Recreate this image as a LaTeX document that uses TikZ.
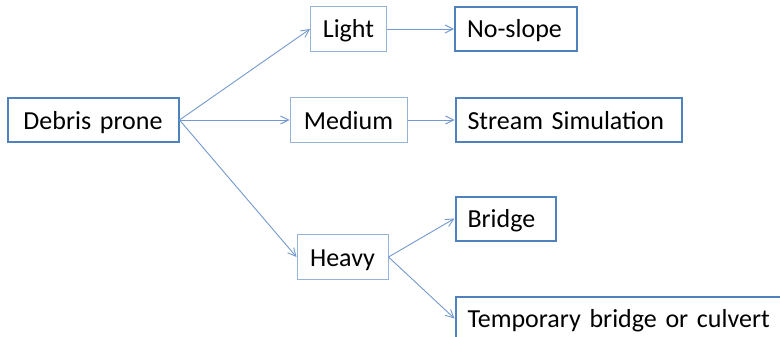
\documentclass[tikz,border=0pt]{standalone}
\usepackage{fontspec}
\setmainfont{Carlito}
\usetikzlibrary{arrows.meta, positioning}
\definecolor{bdark}{HTML}{4F81BD}
\definecolor{blight}{HTML}{95B3D7}
\definecolor{bline}{HTML}{7399CF}
\tikzstyle{choice} = [rectangle, draw=bdark, line width=2pt, minimum height=44pt, inner xsep=12pt, inner ysep=0pt, text height=20pt, text depth=2pt, align=left, font=\fontsize{26}{30}\selectfont]
\tikzstyle{level} = [rectangle, draw=blight, line width=1pt, minimum height=45pt, inner xsep=12pt, inner ysep=0pt, text height=20pt, text depth=2pt, text centered, font=\fontsize{26}{30}\selectfont]
\tikzstyle{link} = [line width=0.9pt, draw=bline, -{Straight Barb[length=8pt, width=8pt]}]

\begin{document}
\begin{tikzpicture}[node distance = 1cm]
  \useasboundingbox (0,0) rectangle (780pt,-337pt);
  \clip (0,0) rectangle (780pt,-337pt);
  \node (debris) [choice, text width=147pt, align=center] at (93pt,-120pt) {Debris prone};
  \node (medium) [level, minimum width=117pt, right=110pt of debris] {Medium};
  \node (light) [level, minimum width=76pt, above=45pt of medium] {Light};
  \node (heavy) [level, minimum width=91pt, below=91pt of medium, xshift=-6pt] {Heavy};
  \node (noslope) [choice, text width=98pt, right=67pt of light] {No-slope};
  \node (stream) [choice, text width=202pt, right=47pt of medium] {Stream Simulation};
  \node (bridge) [choice, text width=76pt, right=66pt of heavy, yshift=38.5pt] {Bridge};
  \node (temp) [choice, text width=312pt, right=66pt of heavy, yshift=-61.5pt] {Temporary bridge or culvert};
  \draw [link] (debris.east) -- (light.west);
  \draw [link] (debris.east) -- (medium.west);
  \draw [link] (debris.east) -- (heavy.west);
  \draw [link] (light.east) -- (noslope.west);
  \draw [link] (medium.east) -- (stream.west);
  \draw [link] (heavy.east) -- (bridge.west);
  \draw [link] (heavy.east) -- (temp.west);
\end{tikzpicture}
\end{document}
